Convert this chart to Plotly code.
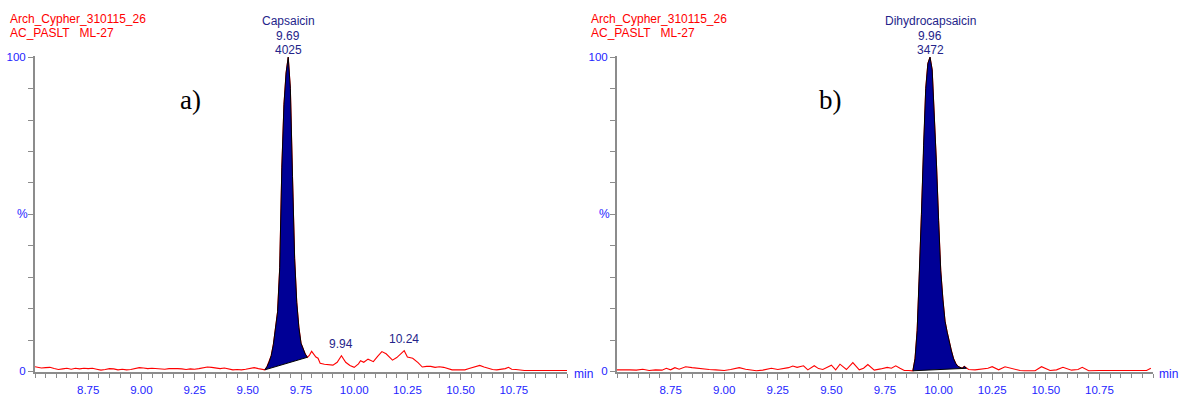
import plotly.graph_objects as go

# ---------------- data ----------------
header_line1 = "Arch_Cypher_310115_26"
header_line2 = "AC_PASLT\u00a0\u00a0\u00a0ML-27"

a_name, a_rt, a_area = "Capsaicin", "9.69", "4025"
b_name, b_rt, b_area = "Dihydrocapsaicin", "9.96", "3472"

x_tick_vals = [8.75, 9.00, 9.25, 9.50, 9.75, 10.00, 10.25, 10.50, 10.75]
x_tick_text = ["8.75", "9.00", "9.25", "9.50", "9.75", "10.00", "10.25", "10.50", "10.75"]
y_tick_vals = [0, 10, 20, 30, 40, 50, 60, 70, 80, 90, 100]
y_tick_text = ["0", "", "", "", "", "", "", "", "", "", "100"]

# panel a) chromatogram (time in min, relative intensity %)
a_time = [8.50, 8.51, 8.53, 8.55, 8.57, 8.59, 8.61, 8.63, 8.65, 8.67, 8.69, 8.71, 8.73, 8.75,
          8.77, 8.79, 8.81, 8.83, 8.85, 8.87, 8.89, 8.91, 8.93, 8.95, 8.97, 8.99, 9.01, 9.03,
          9.05, 9.07, 9.09, 9.11, 9.13, 9.15, 9.17, 9.19, 9.21, 9.23, 9.25, 9.27, 9.29, 9.31,
          9.33, 9.35, 9.37, 9.39, 9.41, 9.43, 9.45, 9.47, 9.49, 9.51, 9.53, 9.55, 9.57,
          9.58, 9.59, 9.60, 9.61, 9.62, 9.63, 9.64, 9.65, 9.66, 9.67, 9.68, 9.69, 9.70, 9.71,
          9.72, 9.73, 9.74, 9.75, 9.76, 9.77, 9.78,
          9.79, 9.80, 9.81, 9.82, 9.83, 9.84, 9.86, 9.88, 9.90, 9.92, 9.94, 9.96, 9.98, 10.00,
          10.02, 10.03, 10.045, 10.065, 10.08, 10.09, 10.11, 10.13, 10.15, 10.17, 10.18, 10.20,
          10.22, 10.235, 10.25, 10.275, 10.30, 10.32, 10.34, 10.36, 10.38, 10.40, 10.42, 10.44,
          10.46, 10.48, 10.50, 10.52, 10.54, 10.57, 10.59, 10.61, 10.63, 10.65, 10.67, 10.69,
          10.71, 10.725, 10.74, 10.76, 10.78, 10.80, 10.85, 10.90, 10.95, 11.00]
a_signal = [1.5, 1.3, 1.1, 1.2, 1.3, 0.9, 0.6, 0.8, 1.0, 0.7, 1.0, 0.8, 1.0, 0.9,
            1.0, 0.7, 0.4, 0.6, 0.9, 0.8, 0.5, 0.7, 0.5, 0.6, 1.0, 1.2, 1.1, 0.9,
            1.0, 0.9, 0.8, 0.7, 0.9, 1.0, 0.9, 0.8, 0.6, 0.8, 0.7, 0.9, 1.2, 1.4,
            1.3, 1.0, 0.9, 1.1, 0.7, 0.5, 0.6, 0.5, 0.7, 1.0, 1.2, 0.9, 0.6,
            0.5, 1.5, 3.0, 5.0, 8.5, 13.0, 19.0, 33.0, 65.0, 85.0, 95.0, 100.0, 90.0, 62.0,
            36.0, 22.0, 14.0, 9.0, 7.0, 5.5, 4.5,
            5.2, 6.4, 5.5, 4.6, 4.2, 2.6, 2.3, 2.2, 2.0, 2.9, 5.0, 2.9, 1.9, 1.3,
            2.4, 3.4, 2.9, 3.9, 3.5, 3.1, 4.8, 6.3, 5.6, 4.2, 3.6, 4.4,
            5.8, 6.6, 4.6, 4.2, 2.8, 1.4, 1.6, 1.6, 1.3, 1.5, 1.3, 0.8,
            0.5, 0.5, 0.5, 0.5, 0.9, 1.6, 1.9, 1.4, 0.9, 0.6, 0.5, 0.6,
            0.9, 1.3, 0.7, 0.6, 0.4, 0.3, 0.3, 0.3, 0.3, 0.3]
a_int_start, a_int_end = 9.58, 9.78
a_minor_peaks = [(9.94, 5.0, "9.94"), (10.235, 6.6, "10.24")]

# panel b) chromatogram
b_time = [8.50, 8.53, 8.56, 8.59, 8.62, 8.65, 8.68, 8.71, 8.73, 8.75, 8.77, 8.79, 8.82, 8.85,
          8.88, 8.90, 8.93, 8.96, 9.00, 9.03, 9.05, 9.07, 9.10, 9.13, 9.15, 9.18, 9.22, 9.25,
          9.27, 9.30, 9.32, 9.34, 9.37, 9.39, 9.42, 9.44, 9.46, 9.48, 9.50, 9.52, 9.54, 9.57,
          9.60, 9.63, 9.65, 9.67, 9.70, 9.73, 9.76, 9.78, 9.80, 9.82, 9.84, 9.86,
          9.88, 9.89, 9.90, 9.91, 9.92, 9.93, 9.94, 9.95, 9.96, 9.97, 9.98, 9.99, 10.00, 10.01,
          10.02, 10.03, 10.04, 10.05, 10.06, 10.07, 10.08, 10.09, 10.10, 10.11, 10.12, 10.13,
          10.14, 10.17, 10.20, 10.23, 10.25, 10.28, 10.31, 10.35, 10.38, 10.40, 10.45, 10.48,
          10.52, 10.55, 10.58, 10.62, 10.65, 10.67, 10.70, 10.75, 10.80, 10.85, 10.90, 10.93,
          10.95, 10.97, 10.99]
b_signal = [0.5, 0.6, 0.5, 0.4, 0.7, 0.3, 0.5, 0.4, 1.0, 0.5, 1.2, 0.7, 1.5, 1.2,
            0.9, 0.8, 0.6, 0.5, 0.3, 0.6, 0.9, 1.2, 0.7, 0.4, 0.2, 0.4, 1.0, 0.6,
            0.8, 1.2, 1.7, 1.3, 1.8, 0.5, 1.8, 0.9, 0.6, 1.2, 2.0, 0.5, 2.3, 0.6,
            2.8, 0.5, 1.0, 2.2, 0.4, 0.8, 1.3, 1.0, 1.8, 1.0, 0.3, 0.3,
            0.2, 4.0, 13.0, 30.0, 50.0, 72.0, 90.0, 98.0, 100.0, 96.0, 83.0, 66.0, 48.0, 32.0,
            23.0, 16.0, 12.5, 9.0, 6.5, 4.0, 2.5, 1.6, 1.2, 1.0, 1.6, 1.0,
            0.6, 0.5, 0.8, 1.0, 1.5, 0.5, 1.5, 0.8, 0.3, 0.2, 0.2, 1.5,
            0.3, 0.5, 1.3, 0.4, 0.6, 1.3, 0.2, 0.3, 0.3, 0.2, 0.3, 0.4,
            0.2, 0.3, 1.0]
b_int_start, b_int_end = 9.88, 10.13

# ---------------- styling ----------------
RED = "#ff0000"
NAVY_FILL = "#000096"
LABEL_NAVY = "#24248a"
TICK_BLUE = "#2424ff"
AXIS_GRAY = "#8c8c8c"
W, H = 1188, 405

dom_a = [35 / W, 567 / W]
dom_b = [617 / W, 1153 / W]
y_range = [-0.3, 100.4]
# pixel rows: value 100 at y=53.5, value 0 at y=375.7
px_per_pct = (375.7 - 53.5) / 100
y_top_px = 53.5 - 0.4 * px_per_pct
y_bot_px = 375.7 + 0.3 * px_per_pct
y_dom = [(H - y_bot_px) / H, (H - y_top_px) / H]
x_range = [8.5, 11.0]

fig = go.Figure()


def add_panel(t, s, i0, i1, xa, ya):
    # full red trace
    fig.add_trace(go.Scatter(x=t, y=s, mode="lines", line=dict(color=RED, width=1.1),
                             xaxis=xa, yaxis=ya, hoverinfo="skip", showlegend=False))
    # integrated peak, filled to the straight baseline between start and end points
    px = [ti for ti in t if i0 <= ti <= i1]
    py = [si for ti, si in zip(t, s) if i0 <= ti <= i1]
    px = px + [px[0]]
    py = py + [py[0]]
    fig.add_trace(go.Scatter(x=px, y=py, mode="lines", fill="toself", fillcolor=NAVY_FILL,
                             line=dict(color="black", width=1), xaxis=xa, yaxis=ya,
                             hoverinfo="skip", showlegend=False))


add_panel(a_time, a_signal, a_int_start, a_int_end, "x", "y")
add_panel(b_time, b_signal, b_int_start, b_int_end, "x2", "y2")

axis_common = dict(showgrid=False, zeroline=False, showline=True, linecolor=AXIS_GRAY,
                   linewidth=2, ticks="outside", tickcolor=AXIS_GRAY, tickwidth=1,
                   tickfont=dict(family="Arial, Liberation Sans", size=11.5, color=TICK_BLUE))

xcommon = dict(axis_common, range=x_range, tickvals=x_tick_vals, ticktext=x_tick_text,
               ticklen=6, minor=dict(dtick=0.05, tick0=8.5, ticks="outside", ticklen=4,
                                     tickcolor=AXIS_GRAY, tickwidth=1, showgrid=False))
ycommon = dict(axis_common, range=y_range, tickvals=y_tick_vals, ticktext=y_tick_text,
               ticklen=5)

fig.update_layout(
    width=W, height=H,
    margin=dict(l=0, r=0, t=0, b=0),
    paper_bgcolor="white", plot_bgcolor="white",
    showlegend=False,
    xaxis=dict(xcommon, domain=dom_a, anchor="y"),
    yaxis=dict(ycommon, domain=y_dom, anchor="x"),
    xaxis2=dict(xcommon, domain=dom_b, anchor="y2"),
    yaxis2=dict(ycommon, domain=y_dom, anchor="x2"),
)

ann = []
txt_font = dict(family="Arial, Liberation Sans", size=12)


def ypix(p):
    return (H - p) / H


for x0, xref_ax, name, rt, area, letter, letter_x in [
        (8 / W, "x", a_name, a_rt, a_area, "a)", 190 / W),
        (589 / W, "x2", b_name, b_rt, b_area, "b)", 830 / W)]:
    ann.append(dict(x=x0, y=ypix(14), xref="paper", yref="paper", text=header_line1,
                    showarrow=False, xanchor="left", yanchor="middle",
                    font=dict(txt_font, color=RED)))
    ann.append(dict(x=x0, y=ypix(29), xref="paper", yref="paper", text=header_line2,
                    showarrow=False, xanchor="left", yanchor="middle",
                    font=dict(txt_font, color=RED)))
    for txt, yp in [(name, 16), (rt, 32), (area, 46)]:
        ann.append(dict(x=float(rt), y=ypix(yp), xref=xref_ax, yref="paper", text=txt,
                        showarrow=False, xanchor="center", yanchor="middle",
                        font=dict(txt_font, color=LABEL_NAVY)))
    ann.append(dict(x=letter_x, y=ypix(97), xref="paper", yref="paper", text=letter,
                    showarrow=False, xanchor="center", yanchor="middle",
                    font=dict(family="Liberation Serif, Times New Roman", size=27,
                              color="black")))

# "%" axis label and "min" unit
for xp in [22 / W, 604 / W]:
    ann.append(dict(x=xp, y=ypix(214), xref="paper", yref="paper", text="%",
                    showarrow=False, xanchor="center", yanchor="middle",
                    font=dict(txt_font, color=TICK_BLUE)))
for xp in [572 / W, 1157 / W]:
    ann.append(dict(x=xp, y=ypix(378.5), xref="paper", yref="paper", text="min",
                    showarrow=False, xanchor="left", yanchor="middle",
                    font=dict(txt_font, color=TICK_BLUE)))

# minor peak labels in panel a
for xt, yv, lab in a_minor_peaks:
    ann.append(dict(x=xt, y=yv, xref="x", yref="y", text=lab, showarrow=False,
                    xanchor="center", yanchor="bottom", yshift=3,
                    font=dict(txt_font, color=LABEL_NAVY)))

fig.update_layout(annotations=ann)

fig.write_html("out.html")
